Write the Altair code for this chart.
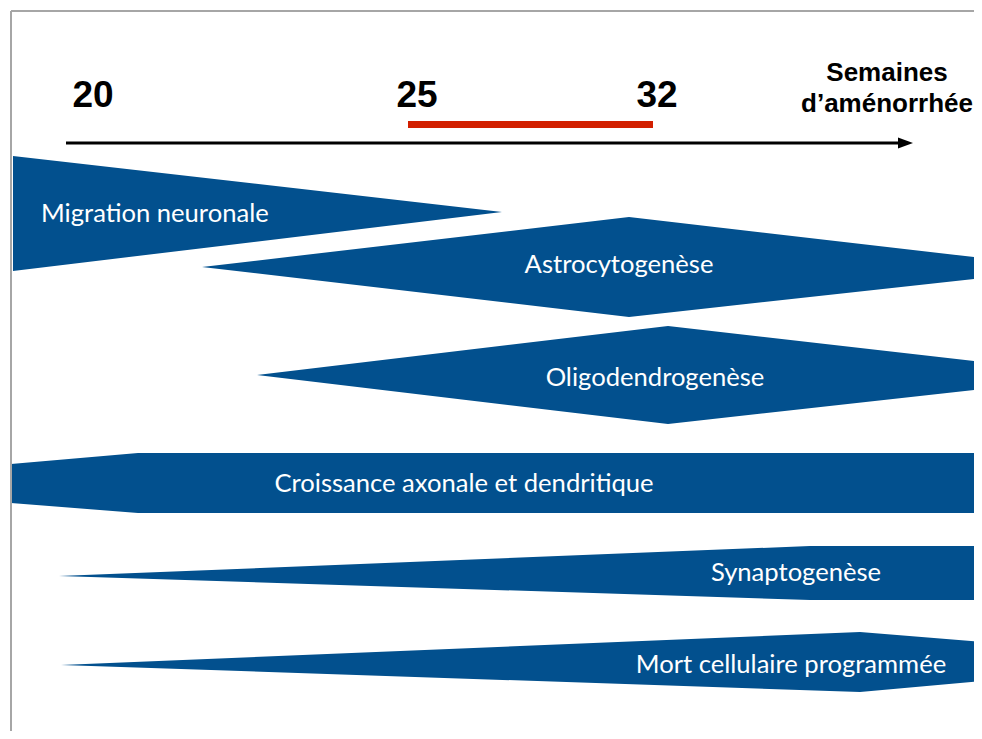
import altair as alt
import pandas as pd

# ---- diagram units (page pixels of the original figure) ----
# Process shapes: x positions with top / bottom edges
shape_names = ["Migration", "Astro", "Oligo", "Croissance", "Synapto", "Mort"]
shape_x = [
    [13, 502],
    [202, 629, 982],
    [257, 668, 982],
    [11, 138, 982],
    [59, 810, 982],
    [61, 860, 982],
]
shape_top = [
    [156, 212],
    [267, 217, 258],
    [375, 326, 362],
    [464, 453, 453],
    [576, 546, 546],
    [665, 632, 642],
]
shape_bot = [
    [271, 212],
    [267, 317, 278],
    [375, 424, 389],
    [503, 513, 513],
    [576, 600, 600],
    [665, 692, 681],
]

# White labels inside shapes
label_text = ["Astrocytogenèse", "Oligodendrogenèse",
              "Croissance axonale et dendritique", "Synaptogenèse",
              "Mort cellulaire programmée"]
label_x = [619, 655, 464, 796, 791]
label_y = [273, 386, 492, 581, 673]
left_label_text = ["Migration neuronale"]
left_label_x = [41]
left_label_y = [222]

# Timeline
week_labels = ["20", "25", "32"]
week_x = [93, 417, 657]
week_y = [107, 107, 107]
axis_title = ["Semaines", "d\u2019aménorrhée"]
axis_title_x = [887, 887]
axis_title_y = [81, 112]
arrow_line = {"px": [66], "px2": [901], "py": [143]}
arrow_head_x = [898, 913]
arrow_head_top = [137.5, 143]
arrow_head_bot = [148.5, 143]
red_bar = {"px": [408], "px2": [653], "py": [124.5]}

# Frame lines (top and left)
frame = {"px": [11, 11], "px2": [982, 11], "py": [11, 11], "py2": [11, 739]}

BLUE = "#02508e"
W, H = 966, 723
xs = alt.Scale(domain=[8, 8 + W], range=[0, W], nice=False, zero=False)
ys = alt.Scale(domain=[8, 8 + H], range=[0, H], nice=False, zero=False)

X = lambda f: alt.X(f, type="quantitative", scale=xs, axis=None)
Y = lambda f: alt.Y(f, type="quantitative", scale=ys, axis=None)

shape_layers = []
for n, xx, tt, bb in zip(shape_names, shape_x, shape_top, shape_bot):
    df = pd.DataFrame({"px": xx, "ytop": tt, "ybot": bb})
    shape_layers.append(
        alt.Chart(df).mark_area(color=BLUE, opacity=1, clip=True).encode(
            x=X("px"), y=Y("ytop"), y2="ybot"
        )
    )

frame_df = pd.DataFrame(frame)
frame_layer = alt.Chart(frame_df).mark_rule(color="#a6a6a6", strokeWidth=2).encode(
    x=X("px"), x2="px2", y=Y("py"), y2="py2"
)

arrow_df = pd.DataFrame(arrow_line)
arrow_layer = alt.Chart(arrow_df).mark_rule(color="black", strokeWidth=3).encode(
    x=X("px"), x2="px2", y=Y("py")
)
head_df = pd.DataFrame({"px": arrow_head_x, "ytop": arrow_head_top, "ybot": arrow_head_bot})
head_layer = alt.Chart(head_df).mark_area(color="black", opacity=1).encode(
    x=X("px"), y=Y("ytop"), y2="ybot"
)
red_df = pd.DataFrame(red_bar)
red_layer = alt.Chart(red_df).mark_rule(color="#d21f00", strokeWidth=7).encode(
    x=X("px"), x2="px2", y=Y("py")
)

weeks_df = pd.DataFrame({"t": week_labels, "px": week_x, "py": week_y})
weeks_layer = alt.Chart(weeks_df).mark_text(
    font="Liberation Sans", fontWeight="bold", fontSize=37, color="black",
    align="center", baseline="alphabetic"
).encode(x=X("px"), y=Y("py"), text="t:N")

title_df = pd.DataFrame({"t": axis_title, "px": axis_title_x, "py": axis_title_y})
title_layer = alt.Chart(title_df).mark_text(
    font="Liberation Sans", fontWeight="bold", fontSize=26, color="black",
    align="center", baseline="alphabetic"
).encode(x=X("px"), y=Y("py"), text="t:N")

lab_df = pd.DataFrame({"t": label_text, "px": label_x, "py": label_y})
lab_layer = alt.Chart(lab_df).mark_text(
    font="Lato", fontSize=25.6, color="white", align="center", baseline="alphabetic"
).encode(x=X("px"), y=Y("py"), text="t:N")

llab_df = pd.DataFrame({"t": left_label_text, "px": left_label_x, "py": left_label_y})
llab_layer = alt.Chart(llab_df).mark_text(
    font="Lato", fontSize=25.6, color="white", align="left", baseline="alphabetic"
).encode(x=X("px"), y=Y("py"), text="t:N")

chart = alt.layer(
    *shape_layers, frame_layer, red_layer, arrow_layer, head_layer,
    weeks_layer, title_layer, lab_layer, llab_layer
).properties(
    width=W, height=H, padding=0, autosize=alt.AutoSizeParams(type="none"),
    background="white"
).configure_view(stroke=None)

chart.save("out.html", embed_options={"renderer": "svg", "actions": False})
